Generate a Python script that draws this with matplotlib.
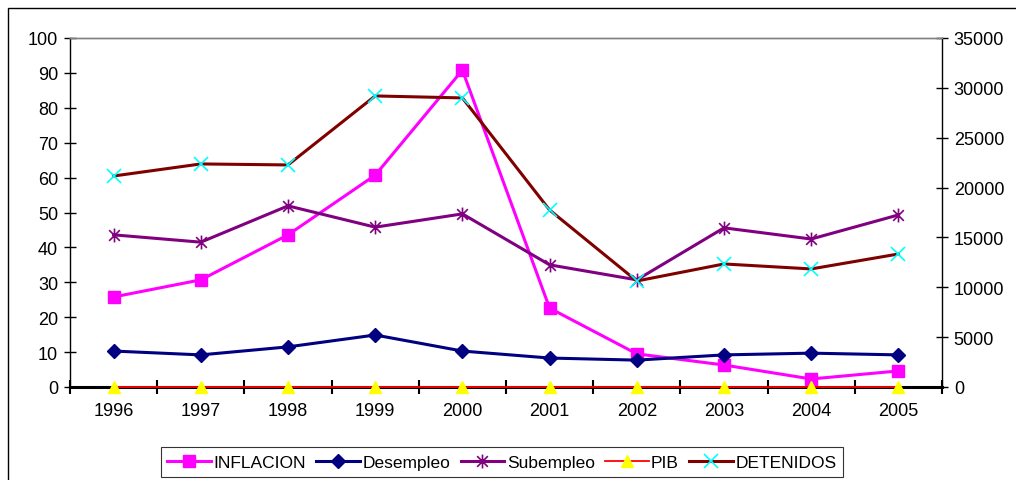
import numpy as np
import matplotlib
matplotlib.use("Agg")
import matplotlib.pyplot as plt
from matplotlib.path import Path
from matplotlib.patches import Rectangle

plt.rcParams['font.family'] = ['Liberation Sans', 'DejaVu Sans']

years = ['1996', '1997', '1998', '1999', '2000', '2001', '2002', '2003', '2004', '2005']
inflacion = [25.8, 30.7, 43.6, 60.7, 90.8, 22.6, 9.5, 6.3, 2.3, 4.6]
desempleo = [10.3, 9.2, 11.5, 14.9, 10.3, 8.3, 7.7, 9.2, 9.7, 9.2]
subempleo = [43.6, 41.5, 51.9, 45.8, 49.6, 35.0, 30.7, 45.6, 42.4, 49.3]
pib = [0, 0, 0, 0, 0, 0, 0, 0, 0, 0]
detenidos = [21160, 22370, 22270, 29190, 28990, 17750, 10630, 12340, 11840, 13340]

# asterisk marker like the spreadsheet one (x plus a vertical bar)
asterisk = Path([(-1, -1), (1, 1), (-1, 1), (1, -1), (0, -1.3), (0, 1.3)],
                [Path.MOVETO, Path.LINETO, Path.MOVETO, Path.LINETO, Path.MOVETO, Path.LINETO])

fig = plt.figure(figsize=(10.16, 4.81), dpi=100)
ax = fig.add_axes([70/1016, 1-388/481, 872/1016, 349/481])
ax2 = ax.twinx()

x = np.arange(len(years))

l1, = ax.plot(x, inflacion, color='#FF00FF', lw=2.2, marker='s', ms=9,
              mfc='#FF00FF', mec='#FF00FF', label='INFLACION', zorder=3)
l2, = ax.plot(x, desempleo, color='#000080', lw=2.2, marker='D', ms=7.5,
              mfc='#000080', mec='#000080', label='Desempleo', zorder=3)
l3, = ax.plot(x, subempleo, color='#800080', lw=2.2, marker=asterisk, ms=10,
              mec='#800080', mew=1.2, label='Subempleo', zorder=3)
l4, = ax.plot(x, pib, color='#FF0000', lw=1.3, marker='^', ms=8,
              mfc='#FFFF00', mec='#FFFF00', label='PIB', zorder=4, clip_on=False)
l5, = ax2.plot(x, detenidos, color='#800000', lw=2.2, marker='x', ms=10,
               mec='#00FFFF', mew=1.2, label='DETENIDOS', zorder=3)

ax.set_xlim(-0.5, len(years) - 0.5)
ax.set_ylim(0, 100)
ax2.set_ylim(0, 35000)
ax.set_yticks(np.arange(0, 101, 10))
ax2.set_yticks(np.arange(0, 35001, 5000))

fs = 13
ax.set_xticks(np.arange(-0.5, len(years), 1))
ax.set_xticklabels([])
ax.set_xticks(x, minor=True)
ax.set_xticklabels(years, minor=True)
ax.tick_params(axis='x', which='major', direction='inout', length=10, width=1.5)
ax.tick_params(axis='x', which='minor', length=0, pad=11, labelsize=fs)
ax.tick_params(axis='y', direction='inout', length=9, width=1, pad=4, labelsize=fs)
ax2.tick_params(axis='y', direction='inout', length=9, width=1, pad=4, labelsize=fs)

for a in (ax, ax2):
    a.spines['top'].set_color('#808080')
    a.spines['top'].set_linewidth(1)
ax.spines['right'].set_visible(False)
ax2.spines['left'].set_visible(False)
ax2.spines['bottom'].set_visible(False)
ax.spines['bottom'].set_linewidth(2.2)
ax.spines['bottom'].set_zorder(2)
ax.spines['left'].set_linewidth(1)
ax2.spines['right'].set_linewidth(1)

# outer chart frame
fig.patches.append(Rectangle((8/1016, -0.1), 1.1, 1.1 - 9/481, transform=fig.transFigure,
                             fill=False, edgecolor='black', lw=1))

leg = fig.legend(handles=[l1, l2, l3, l4, l5], loc='center',
                 bbox_to_anchor=(502/1016, 1-463/481), ncol=5, frameon=True,
                 fancybox=False, edgecolor='black', fontsize=12.5,
                 handlelength=2.5, handletextpad=0.15, columnspacing=0.6,
                 borderpad=0.4)
leg.get_frame().set_linewidth(0.8)

fig.savefig('out.png', dpi=100)
